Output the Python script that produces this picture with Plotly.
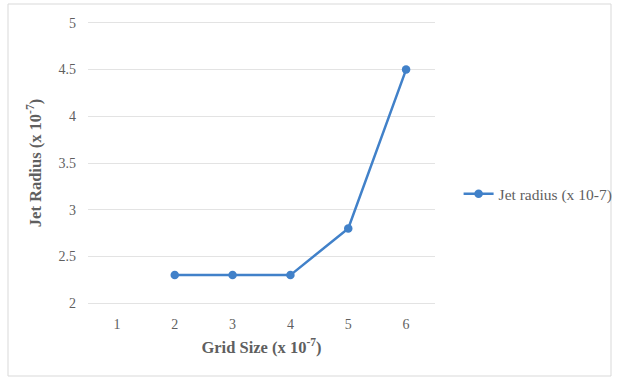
import plotly.graph_objects as go

grid_size = [2, 3, 4, 5, 6]
jet_radius = [2.3, 2.3, 2.3, 2.8, 4.5]
x_ticks = [1, 2, 3, 4, 5, 6]
y_ticks = [2, 2.5, 3, 3.5, 4, 4.5, 5]
series_name = "Jet radius (x 10-7)"

W, H = 619, 378
L, R, T, B = 88, 184, 21, 73
pw, ph = W - L - R, H - T - B

fig = go.Figure()
fig.add_trace(go.Scatter(
    x=grid_size, y=jet_radius, mode="lines+markers", name=series_name,
    line=dict(color="#4181c9", width=2.5),
    marker=dict(color="#4181c9", size=8.5),
))

fnt = "Liberation Serif, Times New Roman, serif"
col = "#5f5f5f"
fig.update_layout(
    width=W, height=H,
    margin=dict(l=L, r=R, t=T, b=B, autoexpand=False),
    paper_bgcolor="white", plot_bgcolor="white",
    font=dict(family=fnt, color=col, size=14),
    showlegend=True,
    legend=dict(x=1.068, y=0.39, xanchor="left", yanchor="middle",
                font=dict(family=fnt, size=15.5, color=col),
                bgcolor="rgba(0,0,0,0)"),
    xaxis=dict(range=[0.5, 6.5], tickvals=x_ticks, ticktext=[str(v) for v in x_ticks],
               showgrid=False, zeroline=False, showline=False, ticks="",
               ticklabelstandoff=9,
               tickfont=dict(size=14, color=col),
               title=dict(text="<b>Grid Size (x 10<sup>-7</sup>)</b>", font=dict(size=16.5, color=col), standoff=10)),
    yaxis=dict(range=[1.98, 5.02], tickvals=y_ticks, ticktext=[f"{v:g}" for v in y_ticks],
               showgrid=True, gridcolor="#e3e3e3", gridwidth=1, zeroline=False, showline=False, ticks="",
               ticklabelstandoff=11,
               tickfont=dict(size=14, color=col),
               title=dict(text="<b>Jet Radius (x 10<sup>-7</sup>)</b>", font=dict(size=16.5, color=col), standoff=12)),
)

fig.add_shape(type="rect", xref="paper", yref="paper",
              x0=(8 - L) / pw, x1=(611 - L) / pw,
              y0=(H - B - 376) / ph, y1=(H - B - 4) / ph,
              line=dict(color="#d9d9d9", width=1), fillcolor="rgba(0,0,0,0)", layer="below")

fig.write_html("out.html", config={"displayModeBar": False},
               post_script="document.body.style.margin='0';")
